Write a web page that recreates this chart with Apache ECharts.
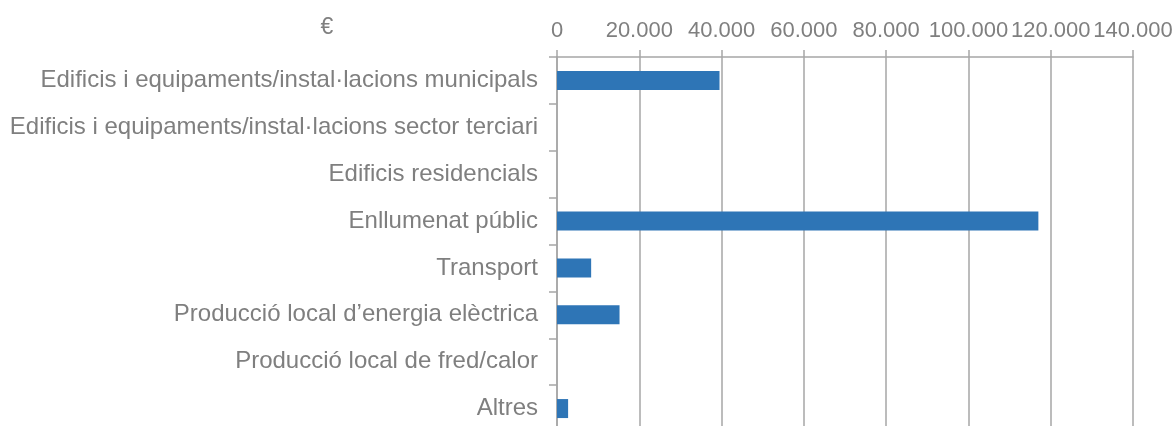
<!DOCTYPE html>
<html>
<head>
<meta charset="utf-8">
<script src="https://cdn.jsdelivr.net/npm/echarts@6/dist/echarts.min.js"></script>
<style>
  html, body { margin: 0; padding: 0; background: #fff; }
  #chart { width: 1174px; height: 426px; }
</style>
</head>
<body>
<div id="chart"></div>
<script>
const categories = [
  'Edificis i equipaments/instal·lacions municipals',
  'Edificis i equipaments/instal·lacions sector terciari',
  'Edificis residencials',
  'Enllumenat públic',
  'Transport',
  'Producció local d’energia elèctrica',
  'Producció local de fred/calor',
  'Altres'
]
const values = [39500, 0, 0, 117000, 8300, 15200, 0, 2700]
const unitLabel = '€'

const grey = '#7f7f7f'
const lineGrey = '#a6a6a6'
const fontFamily = '"Liberation Sans", Arial, sans-serif'

const myChart = echarts.init(document.getElementById('chart'))
myChart.setOption({
  animation: false,
  graphic: [{
    type: 'text',
    x: 327,
    y: 28,
    style: {
      text: unitLabel,
      fill: grey,
      font: '23px ' + fontFamily,
      textAlign: 'center',
      textVerticalAlign: 'middle'
    }
  }],
  grid: {
    left: 557, right: 41, top: 57, bottom: -6,
    containLabel: false,
    outerBoundsMode: 'none'
  },
  xAxis: {
    type: 'value',
    position: 'top',
    min: 0,
    max: 140000,
    interval: 20000,
    axisLine: { show: true, lineStyle: { color: lineGrey, width: 1.5 } },
    axisTick: { show: true, length: 7, lineStyle: { color: lineGrey, width: 1.5 } },
    splitLine: { show: true, lineStyle: { color: lineGrey, width: 1.5 } },
    axisLabel: {
      color: grey,
      fontSize: 22,
      fontFamily,
      margin: 15,
      showMinLabel: true,
      showMaxLabel: true,
      hideOverlap: false,
      formatter: v => v.toString().replace(/\B(?=(\d{3})+(?!\d))/g, '.')
    }
  },
  yAxis: {
    type: 'category',
    inverse: true,
    data: categories,
    axisLine: { show: true, lineStyle: { color: lineGrey, width: 1.5 } },
    axisTick: { show: true, length: 8, lineStyle: { color: lineGrey, width: 1.5 } },
    axisLabel: { color: grey, fontSize: 24, fontFamily, margin: 19 }
  },
  series: [{
    type: 'bar',
    data: values,
    barWidth: 19,
    itemStyle: { color: '#2e75b6' }
  }]
})
</script>
</body>
</html>
